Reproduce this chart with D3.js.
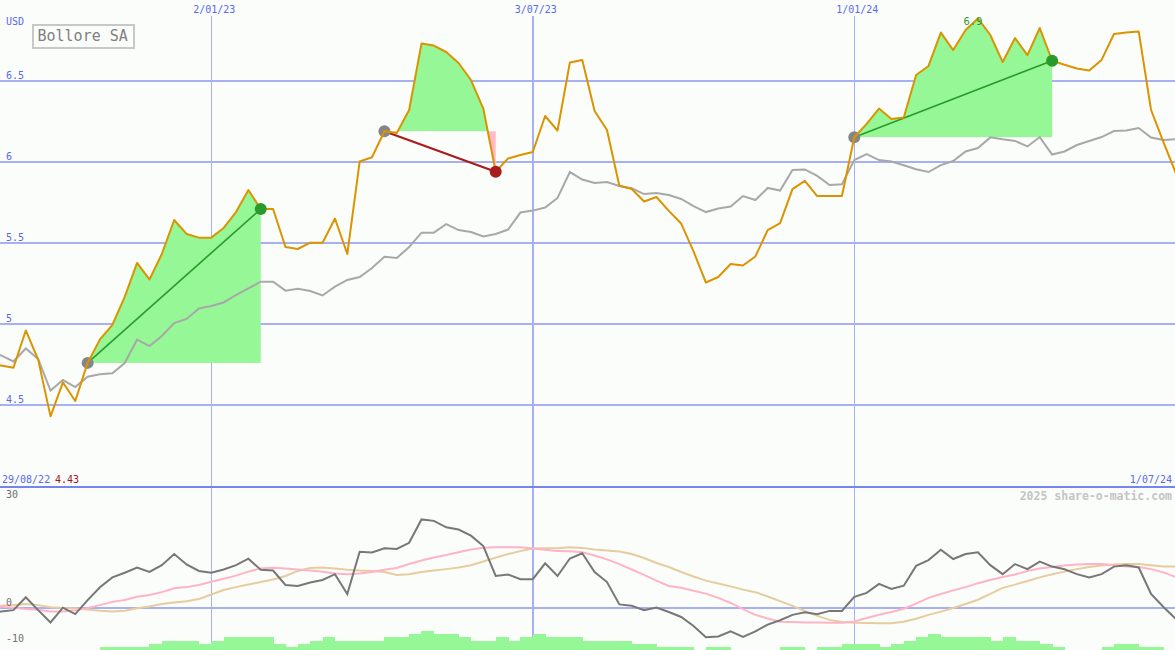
<!DOCTYPE html>
<html><head><meta charset="utf-8">
<script src="https://cdn.jsdelivr.net/npm/d3@7"></script>
<style>
body{margin:0;background:#fbfdfb}
svg{display:block}
text{font-family:"DejaVu Sans Mono",monospace}
</style>
</head><body>
<svg id="chart" width="1175" height="650"></svg>
<script>
// ---------- data ----------
const startDate = "2022-08-29";
const endDate = "2024-07-01";
const gridDates = ["2023-01-02", "2023-07-03", "2024-01-01"];
const gridLabels = ["2/01/23", "3/07/23", "1/01/24"];
const priceTicks = [6.5, 6, 5.5, 5, 4.5];
const priceTickLabels = ["6.5", "6", "5.5", "5", "4.5"];
const oscTicks = [30, 0, -10];
const oscTickLabels = ["30", "0", "-10"];
const title = "Bollore SA";
const currency = "USD";
const startLabel = "29/08/22";
const endLabel = "1/07/24";
const credit = "2025 share-o-matic.com";

// weekly closes (Bollore SA)
const price = [4.75,4.744,4.73,4.96,4.78,4.43,4.64,4.525,4.76,4.905,
  4.995,5.167,5.377,5.275,5.432,5.642,5.556,5.533,5.533,5.593,
  5.691,5.827,5.71,5.71,5.475,5.463,5.502,5.502,5.651,5.432,
  6.003,6.029,6.19,6.179,6.321,6.731,6.719,6.679,6.611,6.506,
  6.33,5.94,6.022,6.043,6.062,6.284,6.194,6.614,6.63,6.315,
  6.198,5.853,5.833,5.756,5.784,5.698,5.62,5.448,5.256,5.29,
  5.37,5.361,5.417,5.58,5.623,5.833,5.883,5.79,5.79,5.79,
  6.153,6.235,6.33,6.265,6.275,6.537,6.593,6.799,6.691,6.815,
  6.886,6.784,6.617,6.765,6.66,6.827,6.625,6.6,6.577,6.565,
  6.63,6.79,6.799,6.806,6.321,6.123,5.932];
// benchmark (grey line)
const benchmark = [4.83,4.806,4.769,4.849,4.784,4.589,4.654,4.611,4.675,4.69,
  4.696,4.759,4.904,4.864,4.926,5.006,5.031,5.096,5.111,5.133,
  5.179,5.22,5.261,5.261,5.206,5.218,5.204,5.176,5.231,5.272,
  5.29,5.346,5.415,5.407,5.475,5.564,5.564,5.617,5.58,5.568,
  5.54,5.556,5.583,5.688,5.7,5.719,5.778,5.938,5.892,5.87,
  5.877,5.852,5.838,5.802,5.809,5.796,5.772,5.728,5.691,5.713,
  5.725,5.79,5.765,5.84,5.824,5.951,5.954,5.914,5.858,5.862,
  6.012,6.049,6.012,6.003,5.98,5.955,5.938,5.981,6.006,6.065,
  6.086,6.152,6.14,6.13,6.096,6.154,6.046,6.065,6.105,6.13,
  6.154,6.191,6.194,6.21,6.151,6.136,6.14];
// oscillator panel
const momentum = [-1.5,-1.0,-0.6,3.0,-0.6,-4.0,0.1,-1.7,2.2,5.75,
  8.5,9.8,11.2,10,11.9,15,12.1,10.3,9.8,10.7,
  11.9,13.7,10.6,10.4,6.4,6.1,7.1,7.8,9.4,3.9,
  15.6,15.4,16.6,16.4,18.1,24.6,24.2,22.4,21.8,20.1,
  17.2,8.9,9.3,8.0,8.0,12.4,8.9,13.75,15.2,10,
  7.2,1.0,0.6,-0.6,0.1,-1.1,-2.5,-5,-8.1,-7.9,
  -6.5,-8,-6.5,-4.6,-3.4,-1.9,-1.2,-1.7,-0.8,-0.8,
  3.1,4.2,6.7,5.3,6.2,11.7,13.3,16.2,13.6,15,
  15.5,11.9,9.4,12.2,10.8,12.9,11.5,10.75,9.4,8.5,
  9.4,11.5,11.9,11.25,3.9,0.3,-3];
const momentumFast = [0.6,0.4,0.1,-0.3,-0.5,-1.0,-1.0,-0.6,0,0.8,
  1.7,2.2,3.1,3.6,4.4,5.5,5.8,6.4,7.3,8.1,
  9,10.1,11,11.2,11,10.7,10.4,10.1,9.6,9.4,
  9.6,10,10.6,11.1,12.2,13.2,14,14.7,15.5,16.25,
  16.75,16.9,16.9,16.9,16.5,16.2,15.8,15.75,15.5,14.6,
  13.5,12.2,10.7,9.2,7.6,6.1,5.6,4.8,4.0,2.8,
  1.4,-0.3,-1.9,-2.9,-3.8,-3.9,-4,-4,-4.1,-4.1,
  -3.75,-2.8,-1.9,-1.1,-0.2,1.2,2.8,3.9,4.9,5.8,
  6.9,7.8,8.6,9.3,10.3,11,11.4,11.8,12.1,12.2,
  12.2,11.9,11.5,11.4,10.8,9.9,8.6];
const momentumSlow = [0.5,0.6,0.8,1.1,0.8,0.2,0,-0.1,-0.4,-0.75,
  -1,-0.75,-0.1,0.4,1.1,1.5,1.9,2.5,3.75,5,
  5.8,6.5,7.2,7.9,8.9,10.3,11.1,11.25,11,10.6,
  10.4,10.3,10,9.2,9.4,10,10.4,10.8,11.25,11.9,
  12.9,14,15,15.8,16.5,16.6,16.6,16.9,16.7,16.25,
  16,15.7,15,13.9,12.5,11.4,10,8.75,7.6,6.8,
  6,5.1,4.4,3.2,1.9,0.6,-0.8,-2.2,-3.3,-3.9,
  -4.1,-4.2,-4.25,-4.25,-3.8,-3.0,-1.9,-1,0,1.1,
  2.3,3.9,5.6,6.5,7.5,8.5,9.4,10.1,10.8,11.4,
  11.8,12.1,12.2,12.2,11.9,11.5,11.5];
const volume = [0,0,0,0,0,0,0,0,0,1,
  1,1,1,2,3,3,3,2,3,4,
  4,4,4,2,1,2,3,4,3,3,
  3,3,4,4,5,6,5,5,4,3,
  3,4,3,4,5,4,4,4,3,3,
  3,3,2,2,1,1,1,0,1,1,
  0,0,0,0,1,1,0,1,1,2,
  2,2,1,2,3,4,5,4,4,4,
  4,3,4,3,3,2,1,0,0,0,
  1,2,2,1,1,0,0];
// highlighted holding periods (week index from, to)
const periods = [[8, 22], [32, 41], [70, 86]];

// ---------- scales ----------
const parse = d3.utcParse("%Y-%m-%d");
const t0 = parse(startDate);
const dates = price.map((_, i) => d3.utcDay.offset(t0, 7 * i));
const x = d3.scaleUtc().domain([t0, parse(endDate)]).range([-11.3, 1175.8]);
const y = d3.scaleLinear().domain([4.5, 6.5]).range([405, 81]);
const yo = d3.scaleLinear().domain([-10, 30]).range([644, 500]);
const yv = d3.scaleLinear().domain([0, 6]).range([650, 631]);

const svg = d3.select("#chart");
const W = 1175, H = 650;
const BLUE_TXT = "#5a68ee", GRID = "#a6b0f2", SEP = "#7585ee";
const GREEN_FILL = "#95f795", PINK_FILL = "#ffb8c8";

svg.append("rect").attr("width", W).attr("height", H).attr("fill", "#fbfdfb");

// horizontal grid (main)
svg.append("g").selectAll("line").data(priceTicks).join("line")
  .attr("x1", 0).attr("x2", W).attr("y1", d => y(d)).attr("y2", d => y(d))
  .attr("stroke", GRID).attr("stroke-width", 2).attr("shape-rendering", "crispEdges");
// lower zero line
svg.append("line").attr("x1", 0).attr("x2", W).attr("y1", yo(0)).attr("y2", yo(0))
  .attr("stroke", GRID).attr("stroke-width", 2).attr("shape-rendering", "crispEdges");
// vertical grid
svg.append("g").selectAll("line").data(gridDates).join("line")
  .attr("x1", d => Math.round(x(parse(d)))).attr("x2", d => Math.round(x(parse(d))))
  .attr("y1", 16).attr("y2", H)
  .attr("stroke", GRID).attr("stroke-width", d => parse(d).getUTCMonth() === 6 ? 2 : 1)
  .attr("shape-rendering", "crispEdges");
// separator
svg.append("line").attr("x1", 0).attr("x2", W).attr("y1", 487).attr("y2", 487)
  .attr("stroke", SEP).attr("stroke-width", 2).attr("shape-rendering", "crispEdges");

// highlight fills
const defs = svg.append("defs");
periods.forEach(([a, b], k) => {
  const base = price[a];
  const pts = d3.range(a, b + 1);
  const area = d3.area().x(i => x(dates[i])).y0(y(base)).y1(i => y(price[i]));
  defs.append("clipPath").attr("id", "up" + k).append("rect")
    .attr("x", 0).attr("y", 0).attr("width", W).attr("height", y(base));
  defs.append("clipPath").attr("id", "dn" + k).append("rect")
    .attr("x", 0).attr("y", y(base)).attr("width", W).attr("height", H - y(base));
  svg.append("path").attr("d", area(pts)).attr("fill", GREEN_FILL).attr("clip-path", `url(#up${k})`);
  svg.append("path").attr("d", area(pts)).attr("fill", PINK_FILL).attr("clip-path", `url(#dn${k})`);
});

// benchmark line
const lineMain = d3.line().x((d, i) => x(dates[i])).y(d => y(d));
svg.append("path").attr("d", lineMain(benchmark)).attr("fill", "none")
  .attr("stroke", "#a8a8a8").attr("stroke-width", 2);

// trend lines + start circles
periods.forEach(([a, b]) => {
  const up = price[b] >= price[a];
  svg.append("line").attr("x1", x(dates[a])).attr("y1", y(price[a]))
    .attr("x2", x(dates[b])).attr("y2", y(price[b]))
    .attr("stroke", up ? "#2a9a2a" : "#a81c1c").attr("stroke-width", up ? 1.6 : 2.2);
  svg.append("circle").attr("cx", x(dates[a])).attr("cy", y(price[a])).attr("r", 6).attr("fill", "#858585");
});

// price line
svg.append("path").attr("d", lineMain(price)).attr("fill", "none")
  .attr("stroke", "#db9400").attr("stroke-width", 2).attr("stroke-linejoin", "round");

// end circles
periods.forEach(([a, b]) => {
  const up = price[b] >= price[a];
  svg.append("circle").attr("cx", x(dates[b])).attr("cy", y(price[b])).attr("r", 6)
    .attr("fill", up ? "#2a9a2a" : "#a81c1c");
});

// max label
const iMax = d3.maxIndex(price);
svg.append("text").attr("x", x(dates[iMax]) - 5).attr("y", y(price[iMax]) + 7)
  .attr("text-anchor", "middle").attr("font-size", 10.5).attr("fill", "#2a9a2a")
  .text(d3.format(".1f")(price[iMax]));

// volume bars
svg.append("g").selectAll("rect").data(volume.slice(0, -1)).join("rect")
  .attr("x", (d, i) => x(dates[i])).attr("width", (d, i) => x(dates[i + 1]) - x(dates[i]) + 0.5)
  .attr("y", d => yv(d)).attr("height", d => H - yv(d))
  .attr("fill", GREEN_FILL).attr("shape-rendering", "crispEdges");

// oscillator lines
const lineOsc = d3.line().x((d, i) => x(dates[i])).y(d => yo(d));
svg.append("path").attr("d", lineOsc(momentumSlow)).attr("fill", "none").attr("stroke", "#e6cc9e").attr("stroke-width", 2);
svg.append("path").attr("d", lineOsc(momentumFast)).attr("fill", "none").attr("stroke", "#ffb3c6").attr("stroke-width", 2);
svg.append("path").attr("d", lineOsc(momentum)).attr("fill", "none").attr("stroke", "#777777").attr("stroke-width", 2);

// axis labels main
svg.append("g").selectAll("text").data(priceTicks).join("text")
  .attr("x", 6).attr("y", d => y(d) - 2).attr("font-size", 10).attr("fill", BLUE_TXT)
  .text((d, i) => priceTickLabels[i]);
svg.append("text").attr("x", 6).attr("y", 25).attr("font-size", 10).attr("fill", BLUE_TXT).text(currency);
svg.append("g").selectAll("text").data(gridDates).join("text")
  .attr("x", d => x(parse(d)) + 3).attr("y", 13).attr("text-anchor", "middle")
  .attr("font-size", 10).attr("fill", BLUE_TXT).text((d, i) => gridLabels[i]);

// oscillator labels
svg.append("g").selectAll("text").data(oscTicks).join("text")
  .attr("x", 6).attr("y", d => Math.min(yo(d) - 2, 645)).attr("font-size", 10).attr("fill", "#707070")
  .text((d, i) => oscTickLabels[i]);

// separator labels
svg.append("text").attr("x", 2).attr("y", 483).attr("font-size", 10).attr("fill", BLUE_TXT).text(startLabel);
svg.append("text").attr("x", 55).attr("y", 483).attr("font-size", 10).attr("fill", "#a01818")
  .text(d3.format(".2f")(d3.min(price)));
svg.append("text").attr("x", 1172).attr("y", 483).attr("text-anchor", "end").attr("font-size", 10)
  .attr("fill", BLUE_TXT).text(endLabel);
svg.append("text").attr("x", 1172).attr("y", 500).attr("text-anchor", "end").attr("font-size", 11.5)
  .attr("font-weight", "bold").attr("fill", "#c4c4c4").text(credit);

// title box
svg.append("rect").attr("x", 33).attr("y", 25).attr("width", 101).attr("height", 23)
  .attr("fill", "#fbfdfb").attr("stroke", "#c8c8c8").attr("stroke-width", 2);
svg.append("text").attr("x", 37.5).attr("y", 41).attr("font-size", 15).attr("fill", "#808080").text(title);
</script>
</body></html>
